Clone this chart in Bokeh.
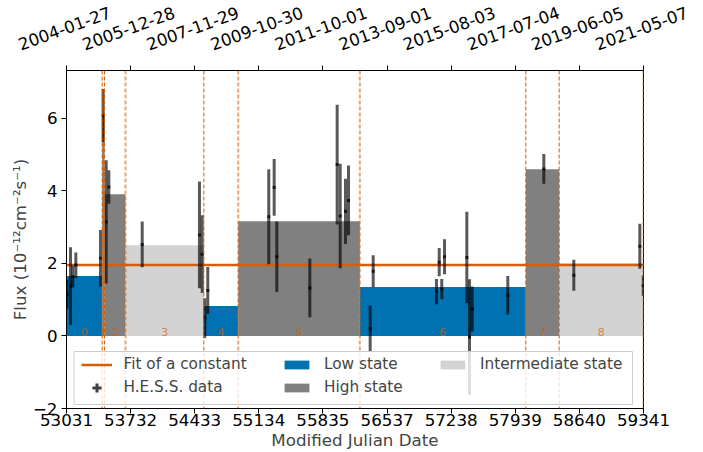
from bokeh.plotting import figure
from bokeh.layouts import column
from bokeh.models import (Range1d, LinearAxis, FixedTicker, Span, Legend,
                          LegendItem, ColumnDataSource, BoxAnnotation)
from bokeh.embed import file_html
from bokeh.resources import INLINE
from bokeh.core.properties import value

# ---------------- data ----------------
mjd = [53036, 53075, 53100, 53133, 53403, 53432, 53465, 53494, 53859,
       54485, 54515, 54543, 54576, 55243, 55302, 55331, 55692, 55991,
       56024, 56082, 56115, 56352, 56385, 57077, 57107, 57135, 57165,
       57409, 57438, 57468, 57857, 58251, 58579, 59301, 59338]
flux = [1.15, 1.37, 1.63, 1.95, 2.14, 6.07, 3.14, 4.10, 2.52,
        2.78, 2.25, 0.49, 1.25, 3.28, 4.09, 2.18, 1.32, 4.72,
        3.30, 3.43, 3.73, 0.20, 1.78, 1.22, 2.03, 1.29, 2.18,
        2.16, -0.03, 0.74, 1.12, 4.60, 1.67, 2.47, 1.38]
flux_err = [0.40, 1.07, 0.30, 0.35, 0.78, 0.73, 1.70, 0.46, 0.63,
            1.47, 1.07, 0.55, 0.65, 1.31, 0.78, 0.97, 0.81, 1.65,
            1.44, 0.90, 0.96, 0.64, 0.44, 0.35, 0.39, 0.28, 0.48,
            1.26, 1.59, 0.62, 0.53, 0.41, 0.43, 0.62, 0.28]

block_edges = [53036, 53421, 53447, 53676, 54533, 54909, 56239, 58054, 58419, 59338]
block_flux = [1.65, 6.07, 3.90, 2.50, 0.82, 3.16, 1.35, 4.59, 2.00]
block_state = ["low", "high", "high", "intermediate", "low", "high", "low", "high", "intermediate"]

fit_constant = 1.95

x_ticks = [53031, 53732, 54433, 55134, 55835, 56537, 57238, 57939, 58640, 59341]
date_labels = ["2004-01-27", "2005-12-28", "2007-11-29", "2009-10-30", "2011-10-01",
               "2013-09-01", "2015-08-03", "2017-07-04", "2019-06-05", "2021-05-07"]
y_ticks = [-2, 0, 2, 4, 6]

# ---------------- styling / layout ----------------
FONT = "DejaVu Sans"
BLUE = "#0072B2"
ORANGE = "#D55E00"
state_color = {"low": BLUE, "high": "#808080", "intermediate": "#D3D3D3"}
x_start, x_end = 53031, 59341
y_start, y_end = -2.0, 7.31

W, H = 703, 452
TOP_H = 60                      # strip holding the rotated date labels
DATE_Y = 28                     # centre of the date labels, px from top
B_LEFT, B_RIGHT, B_TOP, B_BOTTOM = 66, 60, 70, 44
FRAME_W = W - B_LEFT - B_RIGHT
FRAME_H = H - B_TOP - B_BOTTOM
dpp = (x_end - x_start) / FRAME_W          # data units per pixel (x)
ppu = FRAME_H / (y_end - y_start)          # pixels per data unit (y)

# ---------------- main figure ----------------
p = figure(width=W, height=H - TOP_H, x_range=Range1d(x_start, x_end),
           y_range=Range1d(y_start, y_end), output_backend="svg",
           toolbar_location=None, min_border_left=B_LEFT, min_border_right=B_RIGHT,
           min_border_top=B_TOP - TOP_H, min_border_bottom=B_BOTTOM, frame_align=False)
p.grid.visible = False
p.outline_line_color = "black"
p.outline_line_alpha = 1.0
p.outline_line_width = 1

# blocks
renderers_state = {}
for st in ["low", "high", "intermediate"]:
    idx = [i for i, s in enumerate(block_state) if s == st]
    src = ColumnDataSource(dict(
        left=[block_edges[i] for i in idx],
        right=[block_edges[i + 1] for i in idx],
        top=[block_flux[i] for i in idx],
        bottom=[0] * len(idx)))
    renderers_state[st] = p.quad(left="left", right="right", top="top", bottom="bottom",
                                 source=src, fill_color=state_color[st], line_color=None)

# block numbers
centers = [(block_edges[i] + block_edges[i + 1]) / 2 for i in range(len(block_flux))]
p.text(x=centers, y=[0] * len(centers), text=[str(i) for i in range(len(centers))],
       text_align="center", text_baseline="bottom", text_font=value(FONT),
       text_font_size="11px", text_color=ORANGE, text_alpha=0.7)

# fit of a constant
r_fit = p.line(x=[x_start, x_end], y=[fit_constant, fit_constant],
               line_color=ORANGE, line_width=2.5)

# data points with error bars
lo = [f - e for f, e in zip(flux, flux_err)]
hi = [f + e for f, e in zip(flux, flux_err)]
p.segment(x0=mjd, y0=lo, x1=mjd, y1=hi, line_color="black", line_alpha=0.65, line_width=3)
r_pts = p.scatter(x=mjd, y=flux, marker="cross", size=3, line_color="black",
                  line_alpha=0.75, line_width=3)

# block edges (dashed)
light_edges = {3, 5, 6}
for i, e in enumerate(block_edges):
    if i == 0:
        continue
    if i in light_edges:
        p.add_layout(Span(location=e, dimension="height", line_color=ORANGE,
                          line_alpha=0.55, line_width=2, line_dash="4 2"))
    else:
        p.add_layout(Span(location=e, dimension="height", line_color=ORANGE,
                          line_alpha=1.0, line_width=1, line_dash="4 2"))

# axes
for ax in [p.xaxis[0], p.yaxis[0]]:
    ax.major_label_text_font = FONT
    ax.major_label_text_font_size = "16.7px"
    ax.axis_label_text_font = FONT
    ax.axis_label_text_font_size = "16.7px"
    ax.axis_label_text_font_style = "normal"
    ax.major_tick_out = 5
    ax.major_tick_in = 0
    ax.minor_tick_out = 0
    ax.minor_tick_in = 0
    ax.axis_line_color = "black"
    ax.major_label_text_color = "black"

p.xaxis.ticker = FixedTicker(ticks=x_ticks)
p.xaxis.axis_label = "Modified Julian Date"
p.xaxis.major_label_standoff = 0
p.xaxis.axis_label_standoff = 1
p.yaxis.ticker = FixedTicker(ticks=y_ticks)
p.yaxis.major_label_overrides = {-2: "\u22122"}
p.yaxis.axis_label = "Flux (10\u207b\u00b9\u00b2cm\u207b\u00b2s\u207b\u00b9)"
p.yaxis.major_label_standoff = 4
p.yaxis.axis_label_standoff = 0

top = LinearAxis(ticker=FixedTicker(ticks=x_ticks), major_tick_out=5, major_tick_in=0,
                 minor_tick_out=0, minor_tick_in=0, major_label_standoff=0,
                 major_label_overrides={t: "" for t in x_ticks},
                 major_label_text_font_size="0px")
p.add_layout(top, "above")

# legend background box (pixel geometry converted to data units)
def px_x(px):
    return x_start + (px - B_LEFT) * dpp


def px_y(py):
    return y_start + (B_TOP + FRAME_H - py) / ppu


p.add_layout(BoxAnnotation(left=px_x(73.5), right=px_x(632), top=px_y(351), bottom=px_y(404),
                           fill_color="white", fill_alpha=0.8, line_color="#cccccc",
                           line_alpha=1.0, line_width=1))

leg_common = dict(label_text_font=FONT, label_text_font_size="15.3px", glyph_width=31,
                  label_standoff=12, label_height=18, padding=0, margin=0,
                  border_line_color=None, background_fill_alpha=0)
legA = Legend(items=[LegendItem(label="Fit of a constant", renderers=[r_fit]),
                     LegendItem(label="H.E.S.S. data", renderers=[r_pts])],
              location=(14.5, 9.5), glyph_height=23, spacing=0, **leg_common)
legB = Legend(items=[LegendItem(label="Low state", renderers=[renderers_state["low"]]),
                     LegendItem(label="High state", renderers=[renderers_state["high"]])],
              location=(215, 12), glyph_height=11, spacing=5, **leg_common)
legC = Legend(items=[LegendItem(label="Intermediate state",
                                renderers=[renderers_state["intermediate"]])],
              location=(371, 35), glyph_height=11, spacing=5, **leg_common)
for lg in (legA, legB, legC):
    p.add_layout(lg)

# ---------------- top strip with the calendar dates ----------------
pt = figure(width=W, height=TOP_H, x_range=Range1d(x_start - B_LEFT * dpp,
                                                   x_start + (W - B_LEFT) * dpp),
            y_range=Range1d(0, TOP_H), output_backend="svg", toolbar_location=None,
            x_axis_location=None, y_axis_location=None, min_border=0,
            min_border_left=0, min_border_right=0, min_border_top=0, min_border_bottom=0,
            frame_align=False)
pt.outline_line_color = None
pt.grid.visible = False
pt.text(x=x_ticks, y=[TOP_H - DATE_Y] * len(x_ticks), text=date_labels, angle=20,
        angle_units="deg", text_align="center", text_baseline="middle", x_offset=-2,
        text_font=value(FONT), text_font_size="16.7px", text_color="black")

layout = column(pt, p, spacing=0)
open("out.html", "w").write(file_html(layout, INLINE))
